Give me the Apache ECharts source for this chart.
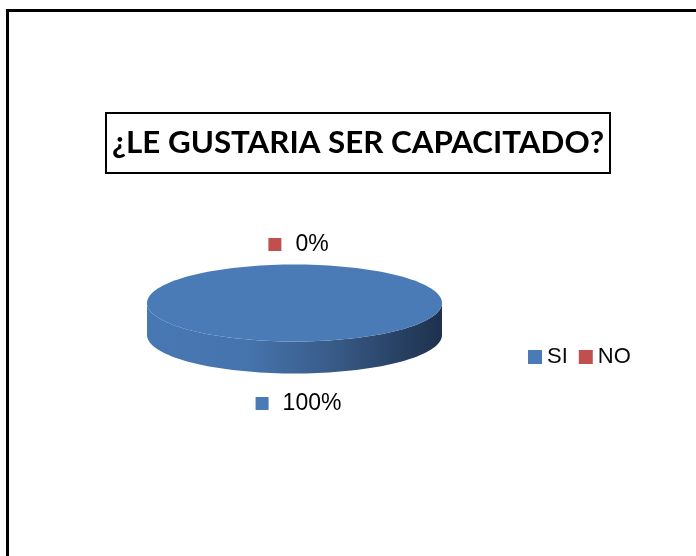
<!DOCTYPE html>
<html>
<head>
<meta charset="utf-8">
<script src="https://cdn.jsdelivr.net/npm/echarts@6/dist/echarts.min.js"></script>
<style>
  html, body { margin: 0; padding: 0; background: #fff; }
  #chart { width: 696px; height: 556px; }
  #frame {
    position: absolute; left: 6px; top: 9px; width: 700px; height: 560px;
    border-left: 3px solid #000; border-top: 3px solid #000;
    pointer-events: none;
  }
</style>
</head>
<body>
<div id="chart"></div>
<div id="frame"></div>
<script>
const categories = ['SI', 'NO']
const values = [100, 0]
const colors = ['#4A7BB7', '#C0504D']

const total = values.reduce((a, b) => a + b, 0)

// pie geometry (3D look)
const cx = 294.5, cy = 303, rx = 147.5, ry = 38.5, depth = 32

function ellipsePt(a, dy) {
  return [cx + rx * Math.cos(a), cy + ry * Math.sin(a) + (dy || 0)]
}

function sliceAngles(idx) {
  let before = 0
  for (let i = 0; i < idx; i++) before += values[i]
  const start = -Math.PI / 2 + before / total * Math.PI * 2
  const end = start + values[idx] / total * Math.PI * 2
  return [start, end]
}

const sideGradient = new echarts.graphic.LinearGradient(0, 0, 1, 0, [
  { offset: 0, color: '#4878B4' },
  { offset: 0.35, color: '#4573AC' },
  { offset: 0.62, color: '#395C89' },
  { offset: 1, color: '#1D314D' }
])

function renderSlice(idx) {
  return function (params, api) {
    const [start, end] = sliceAngles(idx)
    const children = []
    if (end - start > 0) {
      // front side
      const a = Math.max(start, 0), b = Math.min(end, Math.PI)
      if (b > a) {
        const pts = []
        const n = 80
        for (let k = 0; k <= n; k++) pts.push(ellipsePt(a + (b - a) * k / n))
        for (let k = n; k >= 0; k--) pts.push(ellipsePt(a + (b - a) * k / n, depth))
        children.push({ type: 'polygon', z2: 0, shape: { points: pts }, style: { fill: sideGradient } })
      }
      // top face
      const top = []
      const m = Math.max(2, Math.round((end - start) / (Math.PI * 2) * 160))
      for (let k = 0; k <= m; k++) top.push(ellipsePt(start + (end - start) * k / m))
      if (end - start < Math.PI * 2 - 1e-6) top.push([cx, cy])
      children.push({ type: 'polygon', z2: 10, shape: { points: top }, style: { fill: colors[idx] } })
    }
    // data label with legend key
    const mid = (start + end) / 2
    const below = Math.sin(mid) > 0
    const off = below ? 30 : 20
    const lx = cx + (rx + off) * Math.cos(mid) + 4
    const ly = cy + (ry + off) * Math.sin(mid) + (below ? depth : 0)
    const pct = Math.round(values[idx] / total * 100) + '%'
    children.push({
      type: 'text', z2: 20, x: lx, y: ly,
      style: {
        text: '{sq|}{t|' + pct + '}',
        align: 'center', verticalAlign: 'middle',
        rich: {
          sq: { width: 13, height: 13, backgroundColor: colors[idx] },
          t: { fontSize: 23, fontFamily: 'Liberation Sans', color: '#0a0a0a', padding: [0, 0, 0, 14] }
        }
      }
    })
    return { type: 'group', children: children }
  }
}

const chart = echarts.init(document.getElementById('chart'))
chart.setOption({
  animation: false,
  title: {
    text: '¿LE GUSTARIA SER CAPACITADO?',
    left: 106, top: 113,
    padding: [14, 6, 15, 6],
    borderColor: '#000', borderWidth: 2,
    textStyle: { fontFamily: 'Lato', fontWeight: 'bold', fontSize: 31.3, color: '#000' }
  },
  legend: {
    left: 523, top: 341,
    icon: 'rect', itemWidth: 14, itemHeight: 14, itemGap: 11,
    textStyle: { fontSize: 22, fontFamily: 'Liberation Sans', color: '#0a0a0a' },
    data: categories
  },
  series: categories.map((name, i) => ({
    type: 'custom',
    name: name,
    coordinateSystem: 'none',
    itemStyle: { color: colors[i] },
    data: [values[i]],
    renderItem: renderSlice(i)
  }))
})
</script>
</body>
</html>
